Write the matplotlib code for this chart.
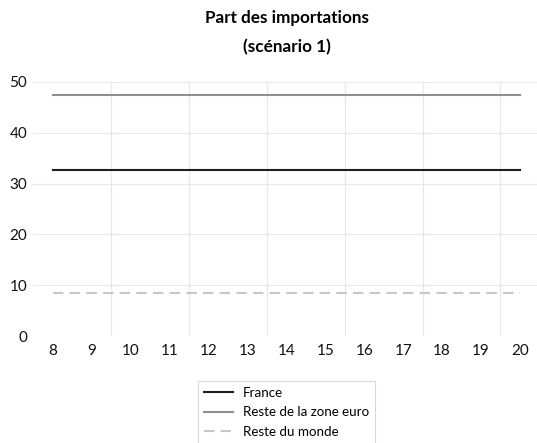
import numpy as np
import matplotlib.pyplot as plt

plt.rcParams["font.family"] = ["Lato", "DejaVu Sans"]

# Horizons
periods = [8, 9, 10, 11, 12, 13, 14, 15, 16, 17, 18, 19, 20]

# Import shares (%)
france = [32.7] * 13
reste_zone_euro = [47.4] * 13
reste_monde = [8.4] * 13

fig = plt.figure(figsize=(5.37, 4.43), dpi=100)
ax = fig.add_axes([0.062, 0.2415, 0.938, 0.5735])

ax.plot(periods, france, color="#1e1e1e", lw=1.5, label="France")
ax.plot(periods, reste_zone_euro, color="#8f8f8f", lw=1.5, label="Reste de la zone euro")
ax.plot(periods, reste_monde, color="#c8c8c8", lw=1.5, ls=(0, (5, 3)), label="Reste du monde")

ax.set_xlim(7.49, 20.44)
ax.set_ylim(0, 50)
ax.set_yticks(range(0, 51, 10))
ax.set_xticks(periods)

# light grid: horizontal at y ticks, vertical between every other category
for y in range(10, 51, 10):
    ax.axhline(y, color="#e8e8e8", lw=0.9, zorder=0)
for xv in np.arange(9.5, 20, 2):
    ax.axvline(xv, color="#e8e8e8", lw=0.9, zorder=0)

for s in ax.spines.values():
    s.set_visible(False)
ax.tick_params(length=0, labelsize=11, colors="#111111")
ax.tick_params(axis="y", pad=4.5)
ax.tick_params(axis="x", pad=6)

fig.suptitle("Part des importations\n(scénario 1)", x=0.534, y=0.978,
             fontsize=12.3, fontweight="bold", linespacing=2.0)

leg = fig.legend(loc="upper left", bbox_to_anchor=(0.356, 0.155), ncol=1,
                 fontsize=9.6, frameon=True, fancybox=False, edgecolor="#d0d0d0",
                 handlelength=2.2, borderpad=0.45, labelspacing=0.55, handletextpad=0.75)
leg.get_frame().set_linewidth(0.8)

fig.savefig("out.png", dpi=100)
